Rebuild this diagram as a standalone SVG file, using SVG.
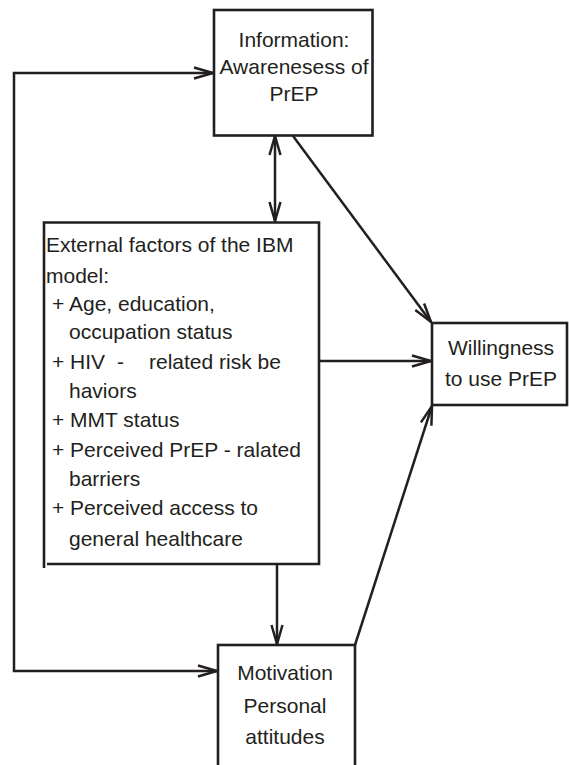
<svg xmlns="http://www.w3.org/2000/svg" width="569" height="765" viewBox="0 0 569 765">
<style>
.box{fill:#fff;stroke:#231f20;stroke-width:2.6}
.ln{fill:none;stroke:#231f20;stroke-width:2.5}
text{font-family:"Liberation Sans",Arial,sans-serif;font-size:21px;fill:#231f20}
.c{text-anchor:middle}
</style>
<defs>
<marker id="ah" markerUnits="userSpaceOnUse" markerWidth="30" markerHeight="20" viewBox="-22 -10 24 20" refX="0" refY="0" orient="auto-start-reverse">
<path d="M-19,-5.5 L0,0 L-19,5.5" fill="none" stroke="#231f20" stroke-width="2.5"/>
</marker>
</defs>
<rect width="569" height="765" fill="#fff"/>
<g id="connectors">
<polyline class="ln" points="213,73 14,73 14,671 217,671" marker-start="url(#ah)" marker-end="url(#ah)"/>
<line class="ln" x1="275" y1="136" x2="275" y2="221" marker-start="url(#ah)" marker-end="url(#ah)"/>
<line class="ln" x1="293" y1="136" x2="431" y2="322" marker-end="url(#ah)"/>
<line class="ln" x1="320" y1="361" x2="431" y2="361" marker-end="url(#ah)"/>
<line class="ln" x1="277" y1="565" x2="277" y2="644" marker-end="url(#ah)"/>
<line class="ln" x1="355" y1="645" x2="432" y2="406" marker-end="url(#ah)"/>
</g>
<g id="info">
<rect class="box" x="214" y="10" width="158.5" height="125.5"/>
<text class="c" x="294" y="47">Information:</text>
<text class="c" x="294" y="74">Awarenesess of</text>
<text class="c" x="294" y="101">PrEP</text>
</g>
<g id="external">
<path class="box" d="M44,568 L44,222.5 L319,222.5 L319,564 L47,564"/>
<text x="46" y="252">External factors of the IBM</text>
<text x="46" y="283">model:</text>
<text x="52" y="311">+ Age, education,</text>
<text x="69" y="339">occupation status</text>
<text x="52" y="369">+ HIV<tspan x="117">-</tspan><tspan x="149">related risk be</tspan></text>
<text x="69" y="398">haviors</text>
<text x="52" y="427">+ MMT status</text>
<text x="52" y="457">+ Perceived PrEP - ralated</text>
<text x="69" y="486">barriers</text>
<text x="52" y="515">+ Perceived access to</text>
<text x="69" y="546">general healthcare</text>
</g>
<g id="willingness">
<rect class="box" x="432" y="323" width="135" height="82"/>
<text class="c" x="501" y="355">Willingness</text>
<text class="c" x="501" y="386">to use PrEP</text>
</g>
<g id="motivation">
<rect class="box" x="218" y="645" width="137" height="130"/>
<text class="c" x="285" y="680">Motivation</text>
<text class="c" x="285" y="713">Personal</text>
<text class="c" x="285" y="744">attitudes</text>
</g>
</svg>
